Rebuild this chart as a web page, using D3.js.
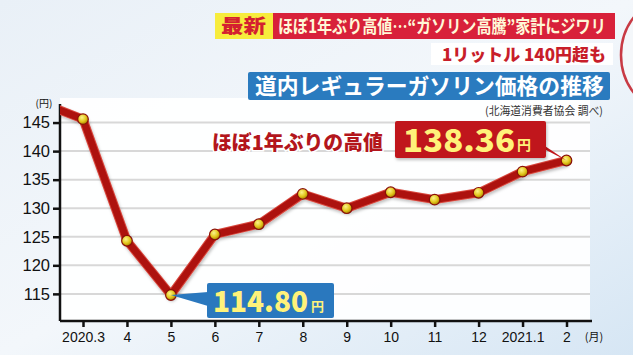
<!DOCTYPE html>
<html>
<head>
<meta charset="utf-8">
<script src="https://cdn.jsdelivr.net/npm/d3@7"></script>
<style>
  html, body { margin: 0; padding: 0; background: #e8f0f8; }
  svg { display: block; }
</style>
</head>
<body>
<div id="chart"></div>
<script>
// data
var months = ["2020.3", "4", "5", "6", "7", "8", "9", "10", "11", "12", "2021.1", "2"];
var prices = [145.6, 124.3, 114.80, 125.4, 127.2, 132.5, 130.0, 132.8, 131.5, 132.7, 136.4, 138.36];
var prevPrice = 148.6;   // 2020.2, cut off by the y axis
var yTicks = [115, 120, 125, 130, 135, 140, 145];

var width = 633, height = 355;
var plot = { left: 60, right: 590, top: 104, bottom: 321 };

var svg = d3.select("#chart").append("svg")
  .attr("width", width)
  .attr("height", height)
  .style("font-family", "'Noto Sans CJK JP', sans-serif");

var defs = svg.append("defs");

// background gradient
var bg = defs.append("linearGradient").attr("id", "bg")
  .attr("x1", 0).attr("y1", 0).attr("x2", 1).attr("y2", 1);
bg.append("stop").attr("offset", "0%").attr("stop-color", "#e9f0f7");
bg.append("stop").attr("offset", "50%").attr("stop-color", "#f3f7fb");
bg.append("stop").attr("offset", "100%").attr("stop-color", "#d6e6f4");

var ball = defs.append("radialGradient").attr("id", "ball")
  .attr("cx", "40%").attr("cy", "35%").attr("r", "65%");
ball.append("stop").attr("offset", "0%").attr("stop-color", "#fbf48a");
ball.append("stop").attr("offset", "60%").attr("stop-color", "#e2c61c");
ball.append("stop").attr("offset", "100%").attr("stop-color", "#a88300");

var shadow = defs.append("filter").attr("id", "shadow")
  .attr("x", "-10%").attr("y", "-10%").attr("width", "120%").attr("height", "130%");
shadow.append("feDropShadow").attr("dx", 1).attr("dy", 2)
  .attr("stdDeviation", 1.5).attr("flood-color", "#000").attr("flood-opacity", 0.25);

defs.append("clipPath").attr("id", "plotClip")
  .append("rect")
  .attr("x", plot.left).attr("y", 0)
  .attr("width", width - plot.left).attr("height", height);

svg.append("rect").attr("width", width).attr("height", height).attr("fill", "url(#bg)");

// plot panel
svg.append("rect")
  .attr("x", plot.left).attr("y", plot.top - 6)
  .attr("width", plot.right - plot.left).attr("height", plot.bottom - plot.top + 6)
  .attr("fill", "#ffffff").attr("opacity", 0.92);

// scales
var x = d3.scalePoint().domain(months).range([83, 566.5]);
var y = d3.scaleLinear().domain([110.25, 148.25]).range([plot.bottom, plot.top]);

// gridlines
svg.append("g").selectAll("line")
  .data(yTicks)
  .enter().append("line")
  .attr("x1", plot.left).attr("x2", plot.right)
  .attr("y1", function (d) { return y(d); })
  .attr("y2", function (d) { return y(d); })
  .attr("stroke", "#d8d8d8")
  .attr("stroke-width", 2);

// axes
var yAxis = svg.append("g")
  .attr("transform", "translate(" + plot.left + ",0)")
  .call(d3.axisLeft(y).tickValues(yTicks).tickSize(7).tickPadding(3));
var xAxis = svg.append("g")
  .attr("transform", "translate(0," + plot.bottom + ")")
  .call(d3.axisBottom(x).tickSize(6).tickPadding(5));

[yAxis, xAxis].forEach(function (g) {
  g.select(".domain").attr("stroke", "#111").attr("stroke-width", 2.5);
  g.selectAll(".tick line").attr("stroke", "#111").attr("stroke-width", 2.5);
  g.selectAll("text").attr("fill", "#111")
    .style("font-family", "'Liberation Sans', Arial, sans-serif");
});
yAxis.select(".domain").attr("d", "M0," + plot.top + "V" + plot.bottom);
xAxis.select(".domain").attr("d", "M" + plot.left + ",0H592");
yAxis.selectAll("text").style("font-size", "16.5px");
xAxis.selectAll("text").style("font-size", "14px");

svg.append("text").attr("x", 44).attr("y", 107)
  .attr("text-anchor", "middle").attr("font-size", 10).attr("fill", "#111")
  .text("(円)");
svg.append("text").attr("x", 594).attr("y", 341)
  .attr("text-anchor", "middle").attr("font-size", 11).attr("fill", "#111")
  .text("(月)");

// line
var step = x.step();
var linePts = [[x(months[0]) - step, prevPrice]].concat(
  months.map(function (m, i) { return [x(m), prices[i]]; }));

var line = d3.line()
  .x(function (d) { return d[0]; })
  .y(function (d) { return y(d[1]); });

svg.append("path")
  .datum(linePts)
  .attr("clip-path", "url(#plotClip)")
  .attr("filter", "url(#shadow)")
  .attr("d", line)
  .attr("fill", "none")
  .attr("stroke", "#d8463c")
  .attr("stroke-width", 9)
  .attr("stroke-linejoin", "round");
svg.append("path")
  .datum(linePts)
  .attr("clip-path", "url(#plotClip)")
  .attr("d", line)
  .attr("fill", "none")
  .attr("stroke", "#ad120e")
  .attr("stroke-width", 7)
  .attr("stroke-linejoin", "round");

svg.append("g").selectAll("circle")
  .data(prices)
  .enter().append("circle")
  .attr("cx", function (d, i) { return x(months[i]); })
  .attr("cy", function (d) { return y(d); })
  .attr("r", 5.3)
  .attr("fill", "url(#ball)")
  .attr("stroke", "#8a1008")
  .attr("stroke-width", 1.2);

// condensed text helper: squeeze horizontally to a given width
function squeezed(xPos, yPos, w, size, weight, fill, str) {
  var g = svg.append("g").attr("transform", "translate(" + xPos + "," + yPos + ")");
  var t = g.append("text")
    .attr("font-size", size).attr("font-weight", weight).attr("fill", fill)
    .text(str);
  var natural = t.node().getComputedTextLength();
  t.attr("transform", "scale(" + (w / natural) + ",1)");
  return t;
}

// callout for the high (last point)
var hiX = x(months[months.length - 1]), hiY = y(prices[prices.length - 1]);
svg.append("path")
  .attr("d", "M536,140L546,150L" + hiX + "," + hiY + "Z")
  .attr("fill", "#c0161b");
svg.append("rect")
  .attr("x", 395).attr("y", 121).attr("width", 151).attr("height", 37)
  .attr("rx", 2).attr("fill", "#c0161b").attr("filter", "url(#shadow)");
squeezed(403, 152, 112, 31, 900, "#fff27a", d3.format(".2f")(prices[prices.length - 1]));
svg.append("text")
  .attr("x", 517).attr("y", 150)
  .attr("font-size", 14).attr("font-weight", 700).attr("fill", "#fff27a")
  .text("円");
squeezed(212, 150, 171, 20, 900, "#b3161c", "ほぼ1年ぶりの高値")
  .attr("stroke", "#ffffff").attr("stroke-width", 3).attr("paint-order", "stroke");

// callout for the low
var loX = x(months[2]), loY = y(prices[2]);
svg.append("path")
  .attr("d", "M208,292L208,306L" + loX + "," + loY + "Z")
  .attr("fill", "#2a78be");
svg.append("rect")
  .attr("x", 207).attr("y", 283).attr("width", 127).attr("height", 35)
  .attr("rx", 2).attr("fill", "#2a78be");
squeezed(213, 312, 95, 29, 900, "#fff27a", d3.format(".2f")(prices[2]));
svg.append("text")
  .attr("x", 311).attr("y", 311)
  .attr("font-size", 13).attr("font-weight", 700).attr("fill", "#fff27a")
  .text("円");

// header
svg.append("circle")
  .attr("cx", 683).attr("cy", 55).attr("r", 62)
  .attr("fill", "#f4f7fa").attr("stroke", "#c83a44").attr("stroke-width", 2.5);

svg.append("rect").attr("x", 215).attr("y", 13).attr("width", 58).attr("height", 26)
  .attr("fill", "#f7ec3c");
svg.append("rect").attr("x", 273).attr("y", 13).attr("width", 342).attr("height", 26)
  .attr("fill", "#d8213a");
squeezed(221, 33, 45, 19, 900, "#d42030", "最新");
squeezed(278, 33, 328, 18, 700, "#fff8d8", "ほぼ1年ぶり高値…“ガソリン高騰”家計にジワリ");

svg.append("rect").attr("x", 431).attr("y", 43).attr("width", 182).attr("height", 22)
  .attr("fill", "#ffffff");
squeezed(442, 61, 164, 17, 900, "#c81e2a", "1リットル 140円超も");

svg.append("rect").attr("x", 248).attr("y", 72).attr("width", 362).attr("height", 28)
  .attr("rx", 2).attr("fill", "#2a7bbf");
squeezed(255, 94, 349, 22, 700, "#ffffff", "道内レギュラーガソリン価格の推移");

squeezed(485, 115, 118, 11, 400, "#333", "(北海道消費者協会 調べ)");
</script>
</body>
</html>
